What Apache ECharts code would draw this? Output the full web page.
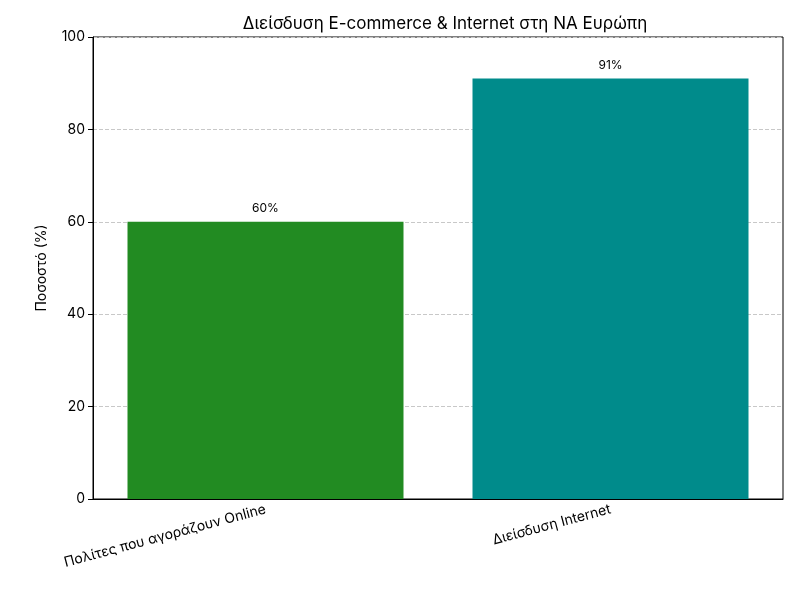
<!DOCTYPE html>
<html><head><meta charset="utf-8">
<script src="https://cdn.jsdelivr.net/npm/echarts@6/dist/echarts.min.js"></script>
<style>html,body{margin:0;padding:0;background:#fff}#c{width:800px;height:600px}</style>
</head><body><div id="c"></div>
<script>
const categories = ['Πολίτες που αγοράζουν Online', 'Διείσδυση Internet'];
const values = [60, 91];
const colors = ['#228B22', '#008B8B'];
const yTicks = [0, 20, 40, 60, 80, 100];
const chart = echarts.init(document.getElementById('c'));
const F = 'Inter, "Noto Sans", sans-serif';
chart.setOption({
  animation: false,
  title: {text: 'Διείσδυση E-commerce & Internet στη ΝΑ Ευρώπη', left: 440, top: 10, textAlign: 'center',
    textStyle: {fontFamily: F, fontSize: 17, fontWeight: 'normal', color: '#000'}},
  grid: {left: 93, right: 17, top: 37, bottom: 101, show: true, borderColor: '#000', borderWidth: 1},
  xAxis: {type: 'category', data: categories,
    axisLine: {lineStyle: {color: '#000'}}, axisTick: {alignWithLabel: true, lineStyle: {color: '#000'}},
    axisLabel: {rotate: 15, color: '#000', fontFamily: F, fontSize: 14, margin: 10, interval: 0}},
  yAxis: {type: 'value', min: yTicks[0], max: yTicks[yTicks.length-1], interval: 20,
    name: 'Ποσοστό (%)', nameLocation: 'middle', nameGap: 44,
    nameTextStyle: {fontFamily: F, fontSize: 14, color: '#000'},
    axisLine: {show: true, lineStyle: {color: '#000'}}, axisTick: {show: true, lineStyle: {color: '#000'}},
    axisLabel: {color: '#000', fontFamily: F, fontSize: 14},
    splitLine: {lineStyle: {type: 'dashed', color: '#c8c8c8'}}},
  series: [{type: 'bar', barWidth: '80%',
    data: values.map((v, i) => ({value: v, itemStyle: {color: colors[i]}})),
    label: {show: true, position: 'top', formatter: '{c}%', color: '#000', fontFamily: F, fontSize: 12, distance: 7}}]
});
</script></body></html>
